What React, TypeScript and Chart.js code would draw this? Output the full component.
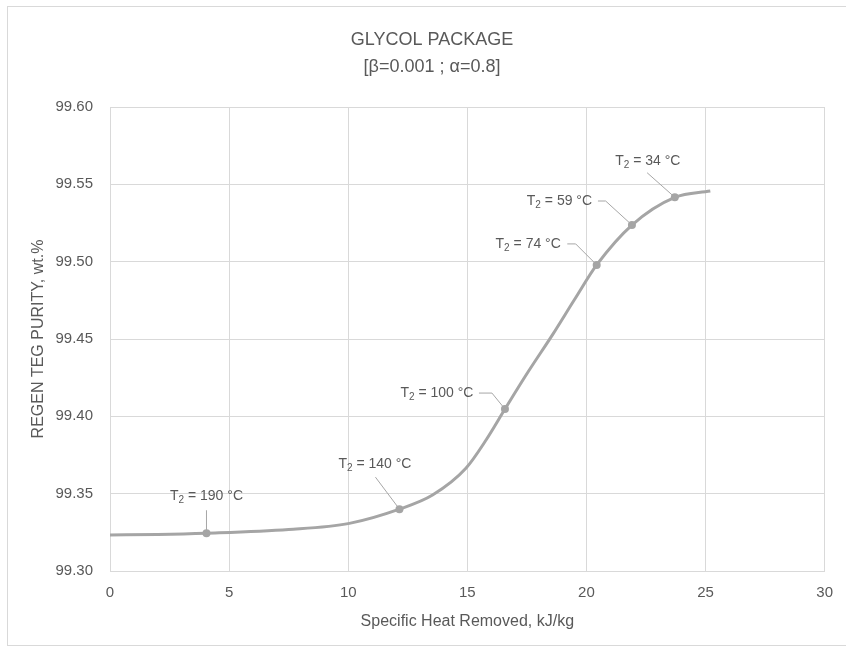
import React, { useEffect, useRef } from "react";
import { Chart, registerables } from "chart.js";

Chart.register(...registerables);

// Smoothed curve
const curveX = [0, 2, 4.05, 7.5, 10.05, 12.15, 13.54, 14.94, 15.8, 16.58, 17.5, 18.6, 19.5, 20.43, 21.91, 23.71, 25.2];
const curveY = [99.3233, 99.3236, 99.3244, 99.3268, 99.3308, 99.34, 99.3491, 99.3664, 99.385, 99.4047, 99.4275, 99.4533, 99.4755, 99.4979, 99.5237, 99.5416, 99.5457];

// Labelled markers
const markerX = [4.05, 12.15, 16.58, 20.43, 21.91, 23.71];
const markerY = [99.3244, 99.34, 99.4047, 99.4979, 99.5237, 99.5416];
const markerT2 = ["190", "140", "100", "74", "59", "34"];

const titleLines = ["GLYCOL PACKAGE", "[β=0.001 ; α=0.8]"];
const xTitle = "Specific Heat Removed, kJ/kg";
const yTitle = "REGEN TEG PURITY, wt.%";

// label placement relative to the marker (pixels) - style only
const labelStyle = [
  { tx: 0, ty: -37, leader: [[0, -23], [0, 0]] },
  { tx: -24.5, ty: -45, leader: [[-24, -32], [0, 0]] },
  { tx: -68, ty: -16, leader: [[-26, -16], [-13, -16], [0, 0]] },
  { tx: -68.5, ty: -21, leader: [[-29.4, -21], [-21, -21], [0, 0]] },
  { tx: -72.5, ty: -24, leader: [[-34, -24], [-26.3, -24], [0, 0]] },
  { tx: -27, ty: -36, leader: [[-27.7, -24.6], [0, 0]] },
];

const FONT = "'Liberation Sans', Arial, sans-serif";
const TEXT = "#595959";
const GRID = "#d9d9d9";
const LINE = "#a5a5a5";

const labelPlugin = {
  id: "t2labels",
  beforeDatasetsDraw(chart: any) {
    const meta = chart.getDatasetMeta(1);
    const ctx = chart.ctx;
    ctx.save();
    ctx.strokeStyle = "#a6a6a6";
    ctx.lineWidth = 1;
    meta.data.forEach((pt: any, i: number) => {
      const s = labelStyle[i];
      ctx.beginPath();
      s.leader.forEach((p: number[], j: number) => {
        const x = pt.x + p[0];
        const y = pt.y + p[1];
        if (j === 0) ctx.moveTo(x, y);
        else ctx.lineTo(x, y);
      });
      ctx.stroke();
    });
    ctx.restore();
  },
  afterDatasetsDraw(chart: any) {
    const meta = chart.getDatasetMeta(1);
    const ctx = chart.ctx;
    ctx.save();
    ctx.fillStyle = TEXT;
    ctx.textBaseline = "middle";
    ctx.textAlign = "left";
    const big = `14px ${FONT}`;
    const small = `10px ${FONT}`;
    meta.data.forEach((pt: any, i: number) => {
      const s = labelStyle[i];
      const rest = ` = ${markerT2[i]} °C`;
      ctx.font = big;
      const wT = ctx.measureText("T").width;
      const wR = ctx.measureText(rest).width;
      ctx.font = small;
      const w2 = ctx.measureText("2").width;
      const total = wT + w2 + wR;
      const cx = pt.x + s.tx;
      const cy = pt.y + s.ty;
      let x = cx - total / 2;
      ctx.font = big;
      ctx.fillText("T", x, cy);
      x += wT;
      ctx.font = small;
      ctx.fillText("2", x, cy + 4);
      x += w2;
      ctx.font = big;
      ctx.fillText(rest, x, cy);
    });
    ctx.restore();
  },
};

export default function App() {
  const ref = useRef<HTMLCanvasElement>(null);

  useEffect(() => {
    document.body.style.margin = "0";
    document.body.style.background = "#ffffff";
    const canvas = ref.current;
    if (!canvas) return;
    const chart = new Chart(canvas, {
      type: "scatter",
      data: {
        datasets: [
          {
            data: curveX.map((x, i) => ({ x, y: curveY[i] })),
            showLine: true,
            borderColor: LINE,
            backgroundColor: LINE,
            borderWidth: 3,
            pointRadius: 0,
            cubicInterpolationMode: "monotone",
            fill: false,
          },
          {
            data: markerX.map((x, i) => ({ x, y: markerY[i] })),
            showLine: false,
            pointRadius: 4,
            pointHoverRadius: 4,
            backgroundColor: LINE,
            borderColor: LINE,
            borderWidth: 0,
          },
        ],
      },
      options: {
        animation: false,
        responsive: false,
        devicePixelRatio: 1,
        layout: { padding: { left: 38, right: 20, top: 0, bottom: 0 } },
        plugins: {
          legend: { display: false },
          tooltip: { enabled: false },
          title: {
            display: true,
            text: titleLines,
            color: TEXT,
            font: { family: FONT, size: 18, weight: "normal", lineHeight: 1.5 },
            padding: { top: 26.5, bottom: 26.5 },
          },
        },
        scales: {
          x: {
            type: "linear",
            min: 0,
            max: 30,
            afterFit: (s: any) => {
              s.height = 79;
            },
            ticks: {
              stepSize: 5,
              color: TEXT,
              font: { family: FONT, size: 15 },
              padding: 13,
            },
            grid: { color: GRID, drawTicks: false, lineWidth: 1 },
            border: { color: GRID },
            title: {
              display: true,
              text: xTitle,
              color: TEXT,
              font: { family: FONT, size: 16 },
              padding: { top: 0, bottom: 19 },
            },
          },
          y: {
            type: "linear",
            min: 99.3,
            max: 99.6,
            afterFit: (s: any) => {
              s.width = 72;
            },
            ticks: {
              stepSize: 0.05,
              color: TEXT,
              font: { family: FONT, size: 15 },
              padding: 17,
              callback: (v: any) => Number(v).toFixed(2),
            },
            grid: { color: GRID, drawTicks: false, lineWidth: 1 },
            border: { color: GRID },
            title: {
              display: true,
              text: yTitle,
              color: TEXT,
              font: { family: FONT, size: 16 },
              padding: { top: -9, bottom: 0 },
            },
          },
        },
      },
      plugins: [labelPlugin],
    } as any);
    return () => chart.destroy();
  }, []);

  return (
    <div style={{ position: "relative", width: 846, height: 650, overflow: "hidden", background: "#fff" }}>
      <div
        style={{
          position: "absolute",
          left: 7,
          top: 6,
          width: 860,
          height: 640,
          border: "1px solid #d9d9d9",
          boxSizing: "border-box",
        }}
      />
      <canvas ref={ref} width={846} height={650} style={{ position: "absolute", left: 0, top: 0 }} />
    </div>
  );
}
